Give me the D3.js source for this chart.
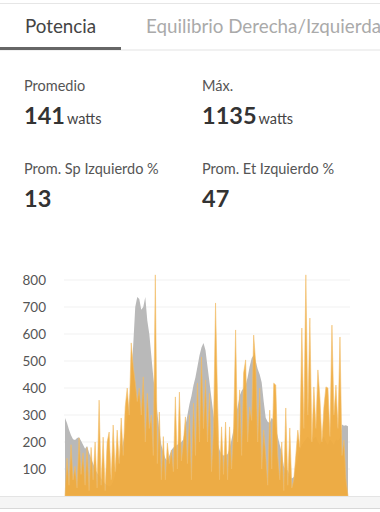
<!DOCTYPE html>
<html>
<head>
<meta charset="utf-8">
<script src="https://cdn.jsdelivr.net/npm/d3@7"></script>
<style>
  html, body { margin: 0; padding: 0; background: #fff; overflow: hidden; }
  svg { display: block; font-family: Lato, "Open Sans", sans-serif; }
</style>
</head>
<body>
<svg id="chart" width="380" height="512"></svg>
<script>
// ---- data ----
const tabs = ["Potencia", "Equilibrio Derecha/Izquierda"];
const statLabels = ["Promedio", "Máx.", "Prom. Sp Izquierdo %", "Prom. Et Izquierdo %"];
const statValues = ["141", "1135", "13", "47"];
const statUnits = ["watts", "watts", "", ""];
const yTicks = [100, 200, 300, 400, 500, 600, 700, 800];

// power (gray) sampled along the ride
const powerSeries = [289,270,245,225,210,207,215,218,205,190,175,185,160,140,120,100,85,75,65,55,
  45,40,35,40,55,80,110,140,170,200,240,290,350,430,560,700,737,730,690,700,
  737,650,600,520,440,380,310,240,190,160,140,130,150,170,180,185,190,195,200,210,
  260,300,340,370,410,440,480,520,550,567,540,480,420,360,300,250,200,170,155,150,
  152,155,175,210,245,300,330,370,390,400,410,440,480,510,522,500,470,450,420,350,
  290,275,270,290,280,250,220,190,160,110,95,95,75,65,70,110,140,170,190,200,
  210,220,210,200,215,220,200,190,210,220,200,190,210,200,190,210,205,215,265,260,
  262,258];
// orange series (spiky)
const orangeSeries = [0,140,40,190,60,110,30,215,80,160,40,180,20,180,60,200,30,355,40,218,
  20,200,237,60,263,90,244,120,289,150,330,400,300,567,480,420,350,400,300,441,
  200,380,250,300,150,819,120,311,60,220,60,196,120,170,90,367,100,385,130,200,
  293,120,300,60,344,150,418,200,515,250,430,200,380,90,250,715,355,60,256,80,
  274,60,256,100,250,615,200,393,150,456,504,200,330,280,596,492,200,400,100,244,
  150,40,318,100,418,411,150,60,200,20,326,40,252,30,60,150,244,180,622,250,
  819,300,659,200,404,250,467,363,200,330,404,400,220,633,300,411,250,589,150,207,
  60,0];

const W = 380, H = 512;
const svg = d3.select("#chart");

// ---- tabs ----
svg.append("line").attr("x1",0).attr("x2",W).attr("y1",3.5).attr("y2",3.5)
  .attr("stroke","#e6e6e6").attr("stroke-width",1);
svg.append("text").attr("x",25).attr("y",33).attr("font-size",18.8)
  .attr("fill","#444").text(tabs[0]);
svg.append("text").attr("x",146).attr("y",33).attr("font-size",18.8)
  .attr("fill","#aaa").text(tabs[1]);
svg.append("line").attr("x1",0).attr("x2",W).attr("y1",50).attr("y2",50)
  .attr("stroke","#e3e3e3").attr("stroke-width",1);
svg.append("rect").attr("x",0).attr("y",47).attr("width",121).attr("height",3)
  .attr("fill","#666");

// ---- stats ----
const statPos = [[24,91,124],[202,91,124],[24,174,207],[202,174,207]];
statLabels.forEach((lab,i)=>{
  const [x,yl,yv] = statPos[i];
  svg.append("text").attr("x",x).attr("y",yl).attr("font-size",14.5)
    .attr("fill","#555").text(lab);
  const t = svg.append("text").attr("x",x).attr("y",yv).attr("fill","#333");
  t.append("tspan").attr("font-size",23.5).attr("font-weight","bold").text(statValues[i]);
  if (statUnits[i]) t.append("tspan").attr("dx",2).attr("font-size",14.5)
    .attr("fill","#444").text(statUnits[i]);
});

// ---- chart ----
const x0 = 65, x1 = 348, yBase = 496;
const x = d3.scaleLinear().domain([0, powerSeries.length-1]).range([x0, x1]);
const y = d3.scaleLinear().domain([0, 800]).range([yBase, yBase-216]);

const grid = svg.append("g");
yTicks.forEach(t=>{
  grid.append("line").attr("x1",64).attr("x2",350).attr("y1",y(t)).attr("y2",y(t))
    .attr("stroke","#f1f1f1").attr("stroke-width",1);
});

const yAxis = d3.axisLeft(y).tickValues(yTicks).tickSize(0).tickPadding(0);
const ag = svg.append("g").attr("transform","translate(46,0)").call(yAxis);
ag.select(".domain").remove();
ag.selectAll("text").attr("font-size",13.5).attr("fill","#555")
  .attr("font-family","Lato, 'Open Sans', sans-serif");

const area = d3.area().x((d,i)=>x(i)).y0(yBase).y1(d=>y(d)).curve(d3.curveLinear);
svg.append("path").datum(powerSeries).attr("d",area).attr("fill","#b9b9b9");
svg.append("path").datum(orangeSeries).attr("d",area).attr("fill","#efab3e")
  .attr("fill-opacity",0.95).attr("stroke","#f2bd6a").attr("stroke-width",0.6);

// ---- bottom band ----
svg.append("rect").attr("x",0).attr("y",496).attr("width",W).attr("height",12)
  .attr("fill","#f5f5f5");
svg.append("line").attr("x1",0).attr("x2",W).attr("y1",496.5).attr("y2",496.5)
  .attr("stroke","#e4e4e4");
svg.append("line").attr("x1",0).attr("x2",W).attr("y1",508.5).attr("y2",508.5)
  .attr("stroke","#d8d8d8");
</script>
</body>
</html>
